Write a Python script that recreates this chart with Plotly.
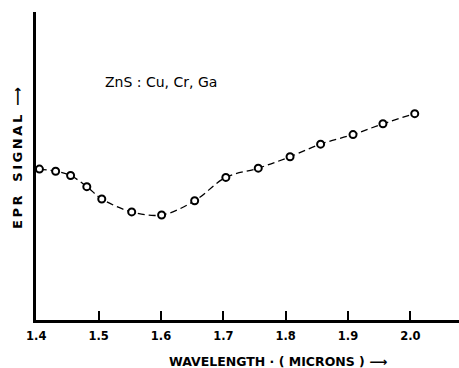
import plotly.graph_objects as go

wavelength = [1.405, 1.431, 1.455, 1.481, 1.505, 1.553, 1.601, 1.654, 1.704,
              1.756, 1.807, 1.856, 1.908, 1.956, 2.007]
epr_signal = [49.0, 48.3, 46.9, 43.3, 39.3, 35.1, 34.1, 38.7, 46.3,
              49.3, 53.0, 57.1, 60.2, 63.7, 67.0]
tick_vals = [1.4, 1.5, 1.6, 1.7, 1.8, 1.9, 2.0]
tick_text = ["1.4", "1.5", "1.6", "1.7", "1.8", "1.9", "2.0"]

font_fam = "DejaVu Sans, sans-serif"
ts = "\u2009"

fig = go.Figure()
fig.add_trace(go.Scatter(
    x=wavelength, y=epr_signal, mode="lines+markers",
    line=dict(color="black", width=1.3, dash="7px,4px", shape="spline", smoothing=1.0),
    marker=dict(symbol="circle", size=7, color="white",
                line=dict(color="black", width=2)),
    showlegend=False, hoverinfo="skip"))

pw, ph = 459 - 36 - 0, 368 - 12 - 48
def px(x):
    return (x - 36) / pw
def py(y):
    return (368 - 48 - y) / ph

ytitle = ts.join("EPR") + "   " + ts.join("SIGNAL") + "  ⟶"

fig.update_layout(
    width=459, height=368,
    margin=dict(l=36, r=0, t=12, b=48),
    paper_bgcolor="white", plot_bgcolor="white",
    xaxis=dict(range=[1.3995, 2.078], tickvals=tick_vals, ticktext=tick_text,
               ticks="inside", ticklen=9, tickwidth=1.5, tickcolor="black",
               showline=True, linecolor="black", linewidth=2.5,
               showgrid=False, zeroline=False, ticklabelstandoff=3,
               tickfont=dict(family=font_fam, size=11.5, color="black", weight="bold")),
    yaxis=dict(range=[0, 100], showticklabels=False, ticks="",
               showline=True, linecolor="black", linewidth=2.5,
               showgrid=False, zeroline=False),
    annotations=[
        dict(text="ZnS : Cu, Cr, Ga", x=px(161), y=py(82), xref="paper", yref="paper",
             xanchor="center", yanchor="middle",
             showarrow=False, font=dict(family=font_fam, size=14, color="black")),
        dict(text="WAVELENGTH · ( MICRONS ) ⟶", x=px(278), y=py(361),
             xref="paper", yref="paper", xanchor="center", yanchor="middle",
             showarrow=False, font=dict(family=font_fam, size=12.5, color="black", weight="bold")),
        dict(text=ytitle, x=px(17), y=py(158), xref="paper", yref="paper",
             textangle=-90, xanchor="center", yanchor="middle",
             showarrow=False, font=dict(family=font_fam, size=13, color="black", weight="bold")),
    ],
)

fig.write_html("out.html", config={"displayModeBar": False},
               post_script="document.body.style.margin='0';document.body.style.overflow='hidden';")
